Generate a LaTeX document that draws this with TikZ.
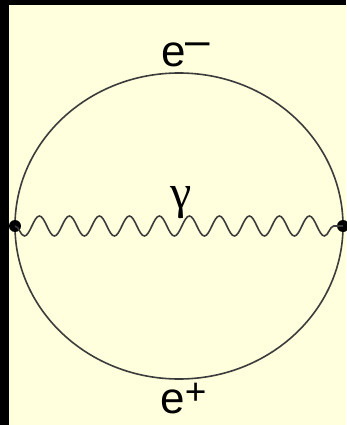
\documentclass[tikz,border=0pt]{standalone}
\usepackage{fontspec}
\setmainfont{Liberation Sans}
\newfontfamily\greekfont{Liberation Serif}
\usetikzlibrary{decorations.pathmorphing}
\definecolor{paper}{RGB}{255,255,221}
\definecolor{ink}{RGB}{60,60,60}

\begin{document}
\begin{tikzpicture}[x=1pt, y=-1pt,
    fermion/.style={draw=ink, line width=1.6pt},
    photon/.style={draw=ink, line width=1.6pt,
        decorate, decoration={snake, segment length=30pt, amplitude=10pt, mirror}},
    vertex/.style={circle, fill=black, inner sep=0pt, minimum size=12pt},
    lbl/.style={inner sep=0pt, font=\fontsize{44}{44}\selectfont}]

% Canvas — black frame on top and left edge
\useasboundingbox (0,0) rectangle (346,425);
\fill[black] (0,0) rectangle (346,425);
\fill[paper] (9,5) rectangle (346,425);

% Electron loop
\def\rx{164}
\def\ry{153}
\coordinate (O) at (179,226);
\draw[fermion] (O) ellipse [x radius=\rx, y radius=\ry];

% Vertices at the two ends of the loop
\node[vertex] (vl) at ([xshift=-\rx pt]O) {};
\node[vertex] (vr) at ([xshift=\rx pt]O) {};

% Photon line between the vertices
\draw[photon] (vl.center) -- (vr.center);

% Labels
\node[lbl, anchor=base west] (eminus) at (161.3,67) {e\raisebox{11.5pt}{–}};
\node[lbl, anchor=base west] (eplus) at (160.3,413)
    {e\raisebox{9pt}{\fontsize{37}{37}\selectfont +}};
\node[inner sep=0pt, anchor=south, font=\greekfont\fontsize{48}{48}\selectfont]
    (gamma) at (181,219) {γ};

\end{tikzpicture}
\end{document}
